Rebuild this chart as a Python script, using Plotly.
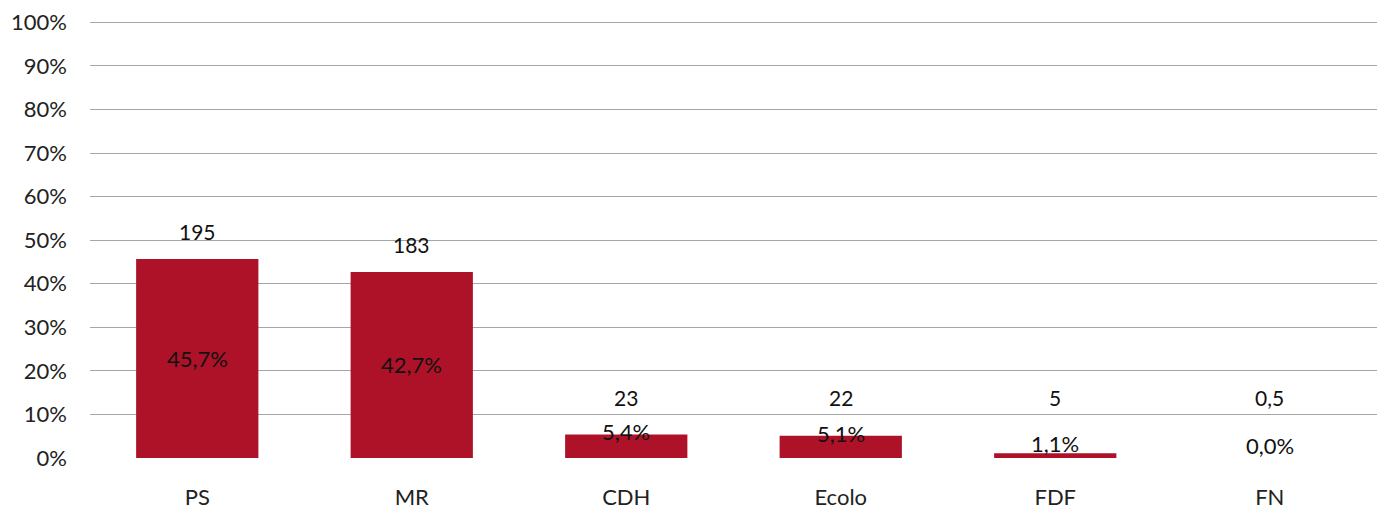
import plotly.graph_objects as go

categories = ["PS", "MR", "CDH", "Ecolo", "FDF", "FN"]
pct_values = [45.7, 42.7, 5.4, 5.1, 1.1, 0.0]
pct_labels = ["45,7%", "42,7%", "5,4%", "5,1%", "1,1%", "0,0%"]
top_labels = ["195", "183", "23", "22", "5", "0,5"]
y_ticks = [0, 10, 20, 30, 40, 50, 60, 70, 80, 90, 100]
y_tick_labels = [f"{v}%" for v in y_ticks]

FONT = "Lato"
BAR = "#AE1228"
FS = 22

fig = go.Figure()
fig.add_trace(go.Bar(
    x=categories, y=pct_values, marker=dict(color=BAR, line=dict(width=0)),
    width=0.57, hoverinfo="skip",
))

annotations = []
for c, v, pl, tl in zip(categories, pct_values, pct_labels, top_labels):
    inner_y = v / 2 if v > 12 else max(v + 0.6, 0.5 * v + 2.8)
    annotations.append(dict(x=c, y=inner_y, text=pl, showarrow=False,
                            xref="x", yref="y", yanchor="middle",
                            font=dict(family=FONT, size=FS, color="#111")))
    top_y = max(v + 6.2, 13.8)
    annotations.append(dict(x=c, y=top_y, text=tl, showarrow=False,
                            xref="x", yref="y", yanchor="middle",
                            font=dict(family=FONT, size=FS - 1, color="#111")))

fig.update_layout(
    width=1379, height=502,
    margin=dict(l=82, r=10, t=10, b=52, autoexpand=False),
    paper_bgcolor="white", plot_bgcolor="white",
    showlegend=False,
    annotations=annotations,
    font=dict(family=FONT, size=FS, color="#222"),
)
fig.update_yaxes(range=[0, 101], tickvals=y_ticks, ticktext=y_tick_labels,
                 showgrid=True, gridcolor="#A6A6A6", gridwidth=1.3,
                 zeroline=False, showline=False, ticks="", ticklabelstandoff=22,
                 automargin=False,
                 tickfont=dict(family=FONT, size=FS, color="#222"))
fig.update_xaxes(showgrid=False, showline=False, ticks="", automargin=False,
                 tickfont=dict(family=FONT, size=FS, color="#222"),
                 ticklabelstandoff=24)

fig.write_html("out.html")
